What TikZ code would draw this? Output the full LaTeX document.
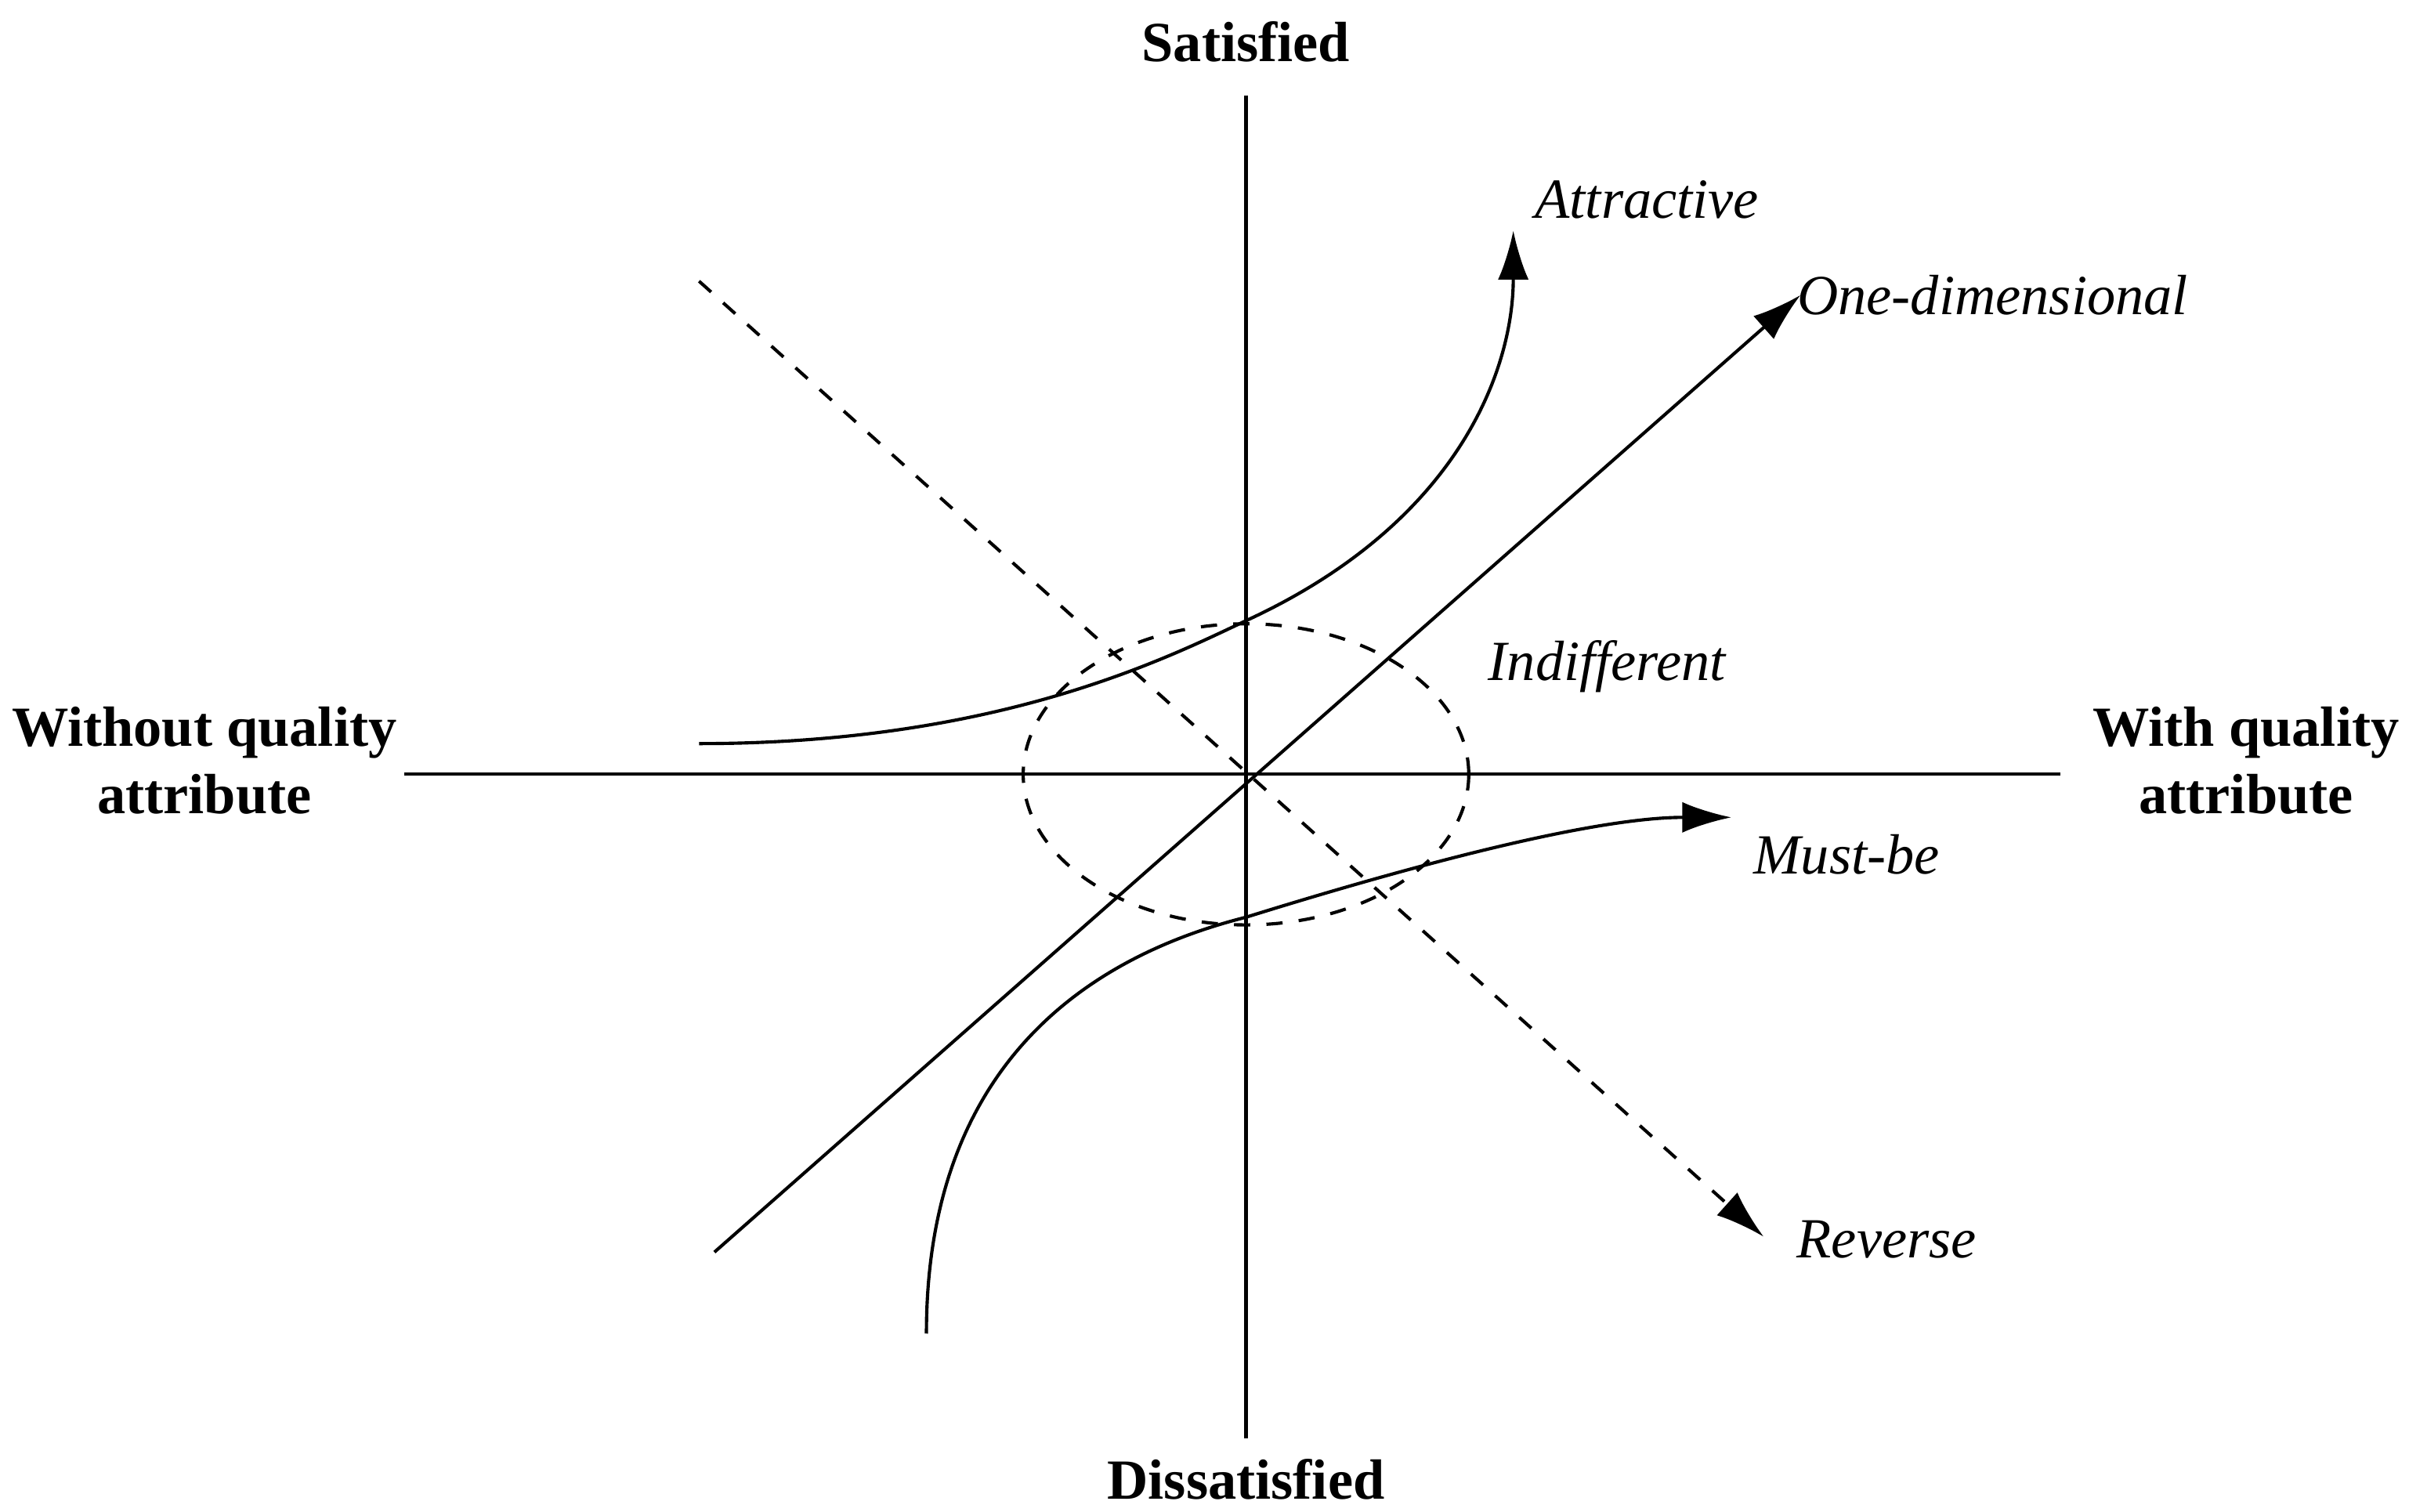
\documentclass[tikz,border=0pt]{standalone}
\usepackage{fontspec}
\setmainfont{Liberation Serif}
\usetikzlibrary{arrows.meta}
\begin{document}
\begin{tikzpicture}[x=0.01cm,y=-0.01cm,line width=0.6pt,
  arr/.style={-{Latex[length=0.32cm,width=0.2cm]}},
  lab/.style={font=\fontsize{10.5}{12.5}\selectfont\itshape},
  axl/.style={font=\fontsize{10.5}{12.5}\selectfont\bfseries,align=center}]
\useasboundingbox (0,0) rectangle (1568,984);
\coordinate (L) at (263,504); \coordinate (R) at (1341,504);
\coordinate (T) at (811,62); \coordinate (B) at (811,936);
\draw (L) -- (R); \draw (T) -- (B);
\node[axl] (sat) at (811,27) {Satisfied};
\node[axl] (dis) at (811,963) {Dissatisfied};
\node[axl] (wo) at (133,495) {Without quality\\attribute};
\node[axl] (wi) at (1462,495) {With quality\\attribute};
\draw[dashed] (811,504) ellipse [x radius=145, y radius=98];
\coordinate (o1) at (465,815); \coordinate (o2) at (1172,192);
\draw[arr] (o1) -- (o2);
\node[lab] (od) at (1297,192) {One-dimensional};
\coordinate (a1) at (455,484); \coordinate (a2) at (985,150);
\draw[arr] (a1) .. controls (650,484) and (760,428) .. (811,404) .. controls (950,340) and (985,240) .. (a2);
\node[lab] (at) at (1072,130) {Attractive};
\coordinate (m1) at (603,868); \coordinate (m2) at (1127,532);
\draw[arr] (m1) .. controls (603,700) and (700,625) .. (811,597) .. controls (930,560) and (1040,532) .. (m2);
\node[lab] (mb) at (1202,556) {Must-be};
\coordinate (r1) at (455,183); \coordinate (r2) at (1148,805);
\draw[arr,dashed] (r1) -- (r2);
\node[lab] (rv) at (1228,807) {Reverse};
\node[lab] (ind) at (1046,434) {Indifferent};
\end{tikzpicture}
\end{document}
